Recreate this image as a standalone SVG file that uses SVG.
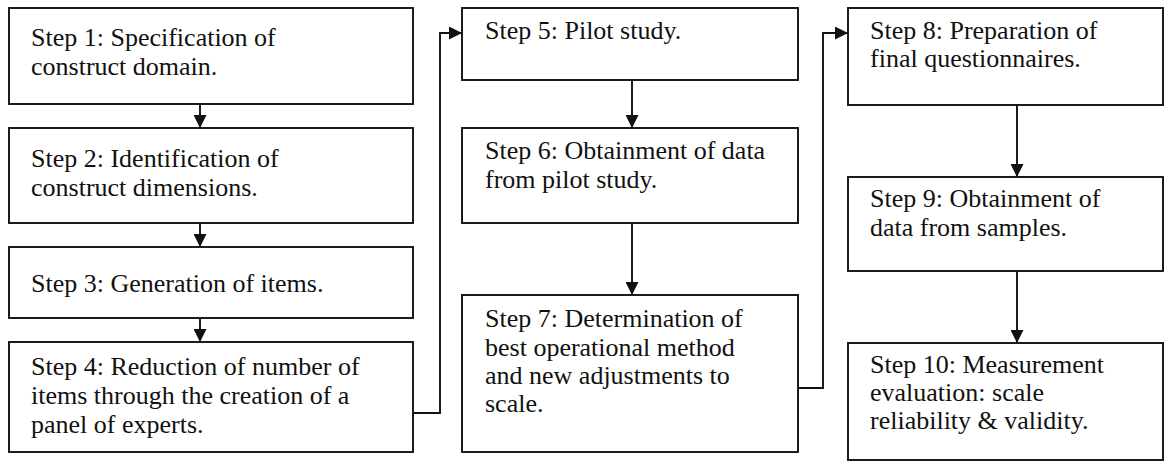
<svg xmlns="http://www.w3.org/2000/svg" width="1165" height="462" viewBox="0 0 1165 462">
<style>
.box{fill:#fff;stroke:#111;stroke-width:1.9}
.t{font-family:"Liberation Serif","Times New Roman",serif;font-size:26px;fill:#111}
.c{fill:none;stroke:#111;stroke-width:1.9}
</style>
<defs>
<marker id="ah" markerWidth="13" markerHeight="13" refX="13" refY="6.5" orient="auto" markerUnits="userSpaceOnUse">
<path d="M0,0 L13,6.5 L0,13 Z" fill="#111"/>
</marker>
</defs>
<rect width="1165" height="462" fill="#fff"/>
<g id="step1"><rect class="box" x="9" y="8" width="404" height="96"/><text class="t" x="31" y="46">Step 1: Specification of</text><text class="t" x="31" y="75">construct domain.</text></g>
<g id="step2"><rect class="box" x="9" y="128" width="404" height="95"/><text class="t" x="31" y="167">Step 2: Identification of</text><text class="t" x="31" y="196">construct dimensions.</text></g>
<g id="step3"><rect class="box" x="9" y="247" width="404" height="71"/><text class="t" x="31" y="292">Step 3: Generation of items.</text></g>
<g id="step4"><rect class="box" x="9" y="342" width="404" height="110"/><text class="t" x="31" y="375">Step 4: Reduction of number of</text><text class="t" x="31" y="404">items through the creation of a</text><text class="t" x="31" y="433">panel of experts.</text></g>
<g id="step5"><rect class="box" x="462" y="8" width="336" height="72"/><text class="t" x="485" y="39">Step 5: Pilot study.</text></g>
<g id="step6"><rect class="box" x="462" y="128" width="336" height="95"/><text class="t" x="485" y="159">Step 6: Obtainment of data</text><text class="t" x="485" y="188">from pilot study.</text></g>
<g id="step7"><rect class="box" x="462" y="295" width="336" height="157"/><text class="t" x="485" y="327">Step 7: Determination of</text><text class="t" x="485" y="356">best operational method</text><text class="t" x="485" y="384">and new adjustments to</text><text class="t" x="485" y="412">scale.</text></g>
<g id="step8"><rect class="box" x="848" y="8" width="315" height="97"/><text class="t" x="870" y="39">Step 8: Preparation of</text><text class="t" x="870" y="67">final questionnaires.</text></g>
<g id="step9"><rect class="box" x="848" y="177" width="315" height="94"/><text class="t" x="870" y="207">Step 9: Obtainment of</text><text class="t" x="870" y="236">data from samples.</text></g>
<g id="step10"><rect class="box" x="848" y="343" width="315" height="117"/><text class="t" x="870" y="373">Step 10: Measurement</text><text class="t" x="870" y="401">evaluation: scale</text><text class="t" x="870" y="429">reliability &amp; validity.</text></g>
<g id="connectors">
<path class="c" d="M200,104 V128" marker-end="url(#ah)"/>
<path class="c" d="M200,223 V247" marker-end="url(#ah)"/>
<path class="c" d="M200,318 V342" marker-end="url(#ah)"/>
<path class="c" d="M413,413 H440 V33 H462" marker-end="url(#ah)"/>
<path class="c" d="M632,80 V128" marker-end="url(#ah)"/>
<path class="c" d="M632,223 V295" marker-end="url(#ah)"/>
<path class="c" d="M798,388 H823 V33 H848" marker-end="url(#ah)"/>
<path class="c" d="M1017,105 V177" marker-end="url(#ah)"/>
<path class="c" d="M1017,271 V343" marker-end="url(#ah)"/>
</g>
</svg>
